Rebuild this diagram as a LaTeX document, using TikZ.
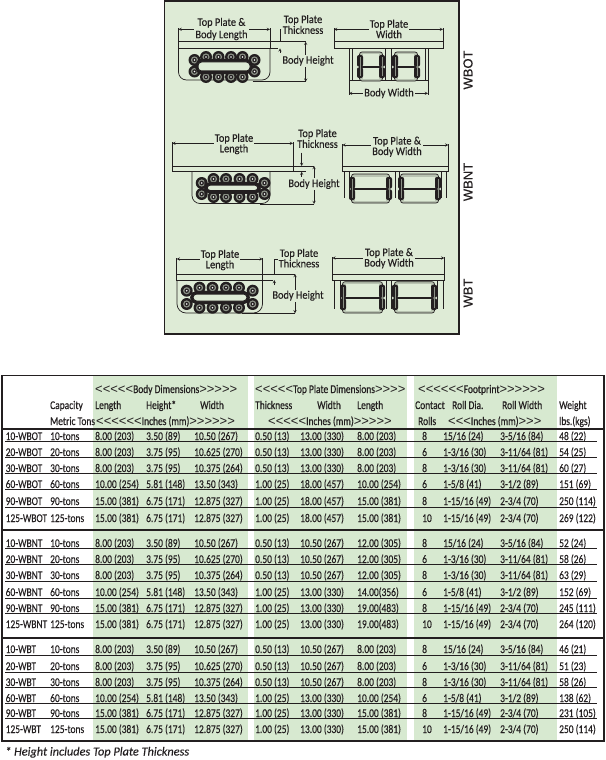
\documentclass[tikz,border=0pt]{standalone}
\usepackage{fontspec}
\usepackage{tikz}
\usetikzlibrary{arrows,positioning}
\newfontfamily\tabfont[FakeStretch=0.8,FakeBold=0.2]{Carlito}
\newfontfamily\headfont[FakeStretch=0.8,FakeBold=0.55]{Carlito}
\newfontfamily\diagfont[FakeStretch=0.9,FakeBold=0.3]{Carlito}
\newfontfamily\notefont[FakeBold=0.2]{Carlito}
\newfontfamily\typefont[FakeBold=0.4]{Liberation Sans}
\newfontfamily\chevfont{Liberation Sans}
\definecolor{panelgreen}{HTML}{DEEBD6}
\definecolor{bandgreen}{HTML}{D7E9D0}
\definecolor{inkdark}{HTML}{231F20}
\definecolor{rollgrey}{HTML}{8B9186}
\definecolor{drumgrey}{HTML}{B9C4B2}
\newcommand{\lchev}{{\fontsize{13}{12}\chevfont<}}
\newcommand{\rchev}{{\fontsize{13}{12}\chevfont>}}
\tikzset{
  tabcell/.style={anchor=base west,inner sep=0pt,font=\fontsize{11.8}{12}\tabfont,text=inkdark},
  headcell/.style={anchor=base west,inner sep=0pt,font=\fontsize{11.8}{12}\headfont,text=inkdark},
  dimlabel/.style={align=center,inner sep=1pt,fill=panelgreen,font=\fontsize{11.5}{10.5}\diagfont,text=inkdark},
  typelabel/.style={rotate=90,inner sep=0pt,font=\fontsize{13}{13}\typefont,text=inkdark},
  dimline/.style={draw=inkdark,line width=0.45pt},
  dimarrow/.style={dimline,<->,>=stealth},
  partline/.style={draw=inkdark,line width=0.7pt},
  rowrule/.style={draw=inkdark,line width=0.8pt},
  bigrule/.style={draw=inkdark,line width=1.8pt}
}
% one table row, first the model and the dimensions, then the footprint
\newcommand{\dimrow}[9]{%
  \node[tabcell] (m#1) at (5.5,#1) {#2};
  \node[tabcell] (k#1) at (50,#1) {#3};
  \node[tabcell] (l#1) at (95,#1) {#4};
  \node[tabcell] (h#1) at (146,#1) {#5};
  \node[tabcell] (w#1) at (194,#1) {#6};
  \node[tabcell] (t#1) at (255,#1) {#7};
  \node[tabcell] (p#1) at (300,#1) {#8};
  \node[tabcell] (q#1) at (357,#1) {#9};
}
\newcommand{\footrow}[5]{%
  \node[tabcell] (r#1) at (422,#1) {#2};
  \node[tabcell] (d#1) at (443,#1) {#3};
  \node[tabcell] (e#1) at (500,#1) {#4};
  \node[tabcell] (g#1) at (559,#1) {#5};
}
\newcommand{\rollat}[2]{%
  \fill[inkdark] (#1,#2) circle (6);
  \fill[rollgrey] (#1,#2) circle (3.6);
  \fill[inkdark] (#1,#2) circle (2.2);
  \fill[white] (#1,#2) circle (0.9);
}
% xs of top and bottom rows, their two ys, xs of the ends, their two ys
\newcommand{\chainside}[6]{%
  \foreach \rx in {#1} \foreach \ry in {#2,#3} {\rollat{\rx}{\ry}}
  \foreach \rx in {#4} \foreach \ry in {#5,#6} {\rollat{\rx}{\ry}}
}
\newcommand{\rollslot}[4]{%
  \draw[inkdark,line width=3.4pt,rounded corners=5pt] (#1-1,#3-1.5) rectangle (#2+1,#4+1.5);
  \draw[partline,line width=1pt,fill=panelgreen,rounded corners=3.5pt] (#1,#3) rectangle (#2,#4);
}
\newcommand{\drum}[5]{% x1 x2 ytop ybottom ymiddle
  \draw[partline,fill=drumgrey,rounded corners=2.5pt] (#1+2.5,#3) rectangle (#2-2.5,#4);
  \fill[panelgreen] (#1+6,#3+2.5) rectangle (#2-6,#4-2.5);
  \draw[inkdark,line width=1.1pt] (#1+4,#5) -- (#2-4,#5);
  \foreach \ex in {#1+3,#2-3} {
    \fill[inkdark,rounded corners=2pt] (\ex-3,#3+3) rectangle (\ex+3,#5-0.3);
    \fill[inkdark,rounded corners=2pt] (\ex-3,#5+0.3) rectangle (\ex+3,#4-3);
    \draw[rollgrey,line width=0.7pt] (\ex,#3+5) -- (\ex,#4-5);
  }
}
\newcommand{\hdim}[6]{% name x1 x2 ydim yend overshoot
  \coordinate (#1a) at (#2,#4);
  \coordinate (#1b) at (#3,#4);
  \draw[dimarrow] (#1a) -- (#1b);
  \draw[dimline] (#2,#5) -- (#2,#4+#6);
  \draw[dimline] (#3,#5) -- (#3,#4+#6);
}
\newcommand{\plate}[4]{%
  \draw[partline,fill=panelgreen] (#1,#3) rectangle (#2,#4);
}
\begin{document}
\begin{tikzpicture}[x=1pt,y=-1pt]
\useasboundingbox (0,0) rectangle (605,760);
%%the green panel
\draw[draw=inkdark,line width=1.6pt,fill=panelgreen] (164.5,1) rectangle (459,334);
%%WBOT side view
\draw[partline,rounded corners=8pt] (178.5,48) -- (178.5,80) -- (270,80) -- (270,48);
\plate{178.5}{270}{41.7}{48.3}
\rollslot{198}{250}{62}{71}
\chainside{206,218.5,231,242.5}{57}{77}{194.5,254.5}{60}{71.5}
\rollslot{198}{250}{62}{71}
%%WBOT front view
\draw[partline,fill=panelgreen] (349,48) rectangle (428,80);
\foreach \sx in {352.7,385,391.7,425} {\draw[partline] (\sx,48) -- (\sx,80);}
\plate{334}{443}{41.7}{48.3}
\drum{357}{385}{52}{81}{67}
\drum{392}{420}{52}{81}{67}
%%WBOT dimensions
\hdim{lenone}{178.5}{270}{29.3}{41.7}{-1.5}
\node[dimlabel,font=\fontsize{11.5}{12.3}\diagfont] (toplen1) at (221.5,29) {Top Plate \&\\Body Length};
\hdim{widone}{334}{443}{29.3}{41.7}{-1.5}
\node[dimlabel] (topwid1) at (389,29) {Top Plate\\Width};
\hdim{bodyone}{349}{428}{93.3}{80}{1.5}
\node[dimlabel] (bodywid1) at (389,93.3) {Body Width};
\node[dimlabel,fill=none,font=\fontsize{11.5}{9.5}\diagfont] (thick1) at (303,24.5) {Top Plate\\Thickness};
\coordinate (ta1) at (280,41.7);
\coordinate (tb1) at (280,48.3);
\draw[dimline] (thick1.west |- 0,29) -- (280,29) -- (ta1);
\draw[dimline] (270,41.7) -- (305.7,41.7);
\draw[dimline] (270,48.3) -- (278,48.3);
\draw[dimline,<-,>=stealth] (tb1) -- (280,53);
\coordinate (ha1) at (305.7,41.7);
\coordinate (hb1) at (305.7,81.7);
\draw[dimarrow] (ha1) -- (hb1);
\draw[dimline] (252.7,81.7) -- (hb1);
\node[dimlabel] (height1) at (308,60.7) {Body Height};
\node[typelabel] (type1) at (468,70) {WBOT};
%%WBNT side view
\draw[partline,rounded corners=8pt] (192,171) -- (192,203.5) -- (270,203.5) -- (270,171);
\plate{172.3}{293}{166}{171.7}
\rollslot{207}{258}{185}{190.7}
\chainside{213.5,226,239.5,252.5}{179}{197}{201.7,264.5}{183}{194}
\rollslot{207}{258}{185}{190.7}
%%WBNT front view
\foreach \sx in {344,349,395,399,441,446} {\draw[partline] (\sx,171.7) -- (\sx,198);}
\plate{342.3}{448.3}{166}{171.7}
\drum{349}{392}{174}{203}{189}
\drum{398}{441}{174}{203}{189}
%%WBNT dimensions
\hdim{lentwo}{172.3}{293}{143.3}{166}{-1.5}
\node[dimlabel] (toplen2) at (234,144) {Top Plate\\Length};
\hdim{widtwo}{342.3}{448.3}{145}{166}{-1.5}
\node[dimlabel] (topwid2) at (397,146.7) {Top Plate \&\\Body Width};
\node[dimlabel,fill=none,font=\fontsize{11.5}{9.5}\diagfont] (thick2) at (317.5,138.5) {Top Plate\\Thickness};
\coordinate (ta2) at (301.7,166);
\coordinate (tb2) at (301.7,171.7);
\draw[dimline,->,>=stealth] (301.7,152.7) -- (ta2);
\draw[dimline,->,>=stealth] (301.7,176.7) -- (tb2);
\draw[dimline] (293,166) -- (314,166);
\draw[dimline] (293,171.7) -- (306,171.7);
\coordinate (ha2) at (314,166);
\coordinate (hb2) at (314,204);
\draw[dimarrow] (ha2) -- (hb2);
\draw[dimline] (260,204) -- (hb2);
\node[dimlabel] (height2) at (314,184) {Body Height};
\node[typelabel] (type2) at (468,182) {WBNT};
%%WBT side view
\draw[partline,rounded corners=9pt] (177,280) -- (177,313) -- (262.5,313) -- (262.5,280);
\plate{176.7}{262.7}{274}{280}
\rollslot{193}{247}{294}{301}
\chainside{199.5,212.5,226,239}{287.7}{307.7}{186.7,252.7}{290.7}{304}
\rollslot{193}{247}{294}{301}
%%WBT front view
\foreach \sx in {334,340,386,391,437,443} {\draw[partline] (\sx,280) -- (\sx,309);}
\plate{332.3}{444.3}{274}{280}
\drum{340}{385}{281.7}{313}{298}
\drum{392}{437}{281.7}{313}{298}
%%WBT dimensions
\hdim{lenthree}{176.7}{262.7}{259}{274}{-1.5}
\node[dimlabel] (toplen3) at (220,260) {Top Plate\\Length};
\hdim{widthree}{332.3}{444.3}{258}{274}{-1.5}
\node[dimlabel] (topwid3) at (389,258.2) {Top Plate \&\\Body Width};
\node[dimlabel,fill=none] (thick3) at (299,258.2) {Top Plate\\Thickness};
\coordinate (ta3) at (274.3,274);
\coordinate (tb3) at (274.3,280);
\draw[dimline] (277.7,259) -- (274.3,259) -- (ta3);
\draw[dimline,->,>=stealth] (274.3,285) -- (tb3);
\draw[dimline] (262.7,274) -- (295,274);
\draw[dimline] (262.7,280) -- (273,280);
\coordinate (ha3) at (295,274);
\coordinate (hb3) at (295,313.3);
\draw[dimarrow] (ha3) -- (hb3);
\draw[dimline] (241.7,313.3) -- (hb3);
\node[dimlabel] (height3) at (298,295.7) {Body Height};
\node[typelabel] (type3) at (468,293) {WBT};
%%the table, bands first
\fill[bandgreen] (93,376) rectangle (248,741);
\fill[bandgreen] (254,376) rectangle (407,741);
\fill[bandgreen] (414,376) rectangle (557,741);
%%header
\node[headcell] (bodyhead) at (95,393) {\lchev\lchev\lchev\lchev\lchev Body Dimensions\rchev\rchev\rchev\rchev\rchev};
\node[headcell] (platehead) at (255,393) {\lchev\lchev\lchev\lchev\lchev Top Plate Dimensions\rchev\rchev\rchev\rchev};
\node[headcell] (foothead) at (418,393) {\lchev\lchev\lchev\lchev\lchev\lchev Footprint\rchev\rchev\rchev\rchev\rchev\rchev};
\node[headcell] (capahead) at (50,409) {Capacity};
\node[headcell] (lenhead) at (95,409) {Length};
\node[headcell] (heihead) at (146,409) {Height*};
\node[headcell] (widhead) at (200,409) {Width};
\node[headcell] (thihead) at (255,409) {Thickness};
\node[headcell] (pwhead) at (317,409) {Width};
\node[headcell] (plhead) at (357,409) {Length};
\node[headcell] (conhead) at (415,409) {Contact};
\node[headcell] (diahead) at (452,409) {Roll Dia.};
\node[headcell] (rwhead) at (502,409) {Roll Width};
\node[headcell] (weihead) at (559,409) {Weight};
\node[headcell] (metrhead) at (50,425) {Metric Tons};
\node[headcell] (inhead1) at (96,425) {\lchev\lchev\lchev\lchev\lchev\lchev Inches (mm)\rchev\rchev\rchev\rchev\rchev\rchev};
\node[headcell] (inhead2) at (268,425) {\lchev\lchev\lchev\lchev\lchev Inches (mm)\rchev\rchev\rchev\rchev\rchev};
\node[headcell] (rollhead) at (418,425) {Rolls};
\node[headcell] (inhead3) at (448,425) {\lchev\lchev\lchev Inches (mm)\rchev\rchev\rchev};
\node[headcell] (lbshead) at (559,425) {lbs.(kgs)};
%%WBOT rows
\dimrow{440}{10-WBOT}{10-tons}{8.00 (203)}{3.50 (89)}{10.50 (267)}{0.50 (13)}{13.00 (330)}{8.00 (203)}
\footrow{440}{8}{15/16 (24)}{3-5/16 (84)}{48 (22)}
\dimrow{456}{20-WBOT}{20-tons}{8.00 (203)}{3.75 (95)}{10.625 (270)}{0.50 (13)}{13.00 (330)}{8.00 (203)}
\footrow{456}{6}{1-3/16 (30)}{3-11/64 (81)}{54 (25)}
\dimrow{472}{30-WBOT}{30-tons}{8.00 (203)}{3.75 (95)}{10.375 (264)}{0.50 (13)}{13.00 (330)}{8.00 (203)}
\footrow{472}{8}{1-3/16 (30)}{3-11/64 (81)}{60 (27)}
\dimrow{488}{60-WBOT}{60-tons}{10.00 (254)}{5.81 (148)}{13.50 (343)}{1.00 (25)}{18.00 (457)}{10.00 (254)}
\footrow{488}{6}{1-5/8 (41)}{3-1/2 (89)}{151 (69)}
\dimrow{505}{90-WBOT}{90-tons}{15.00 (381)}{6.75 (171)}{12.875 (327)}{1.00 (25)}{18.00 (457)}{15.00 (381)}
\footrow{505}{8}{1-15/16 (49)}{2-3/4 (70)}{250 (114)}
\dimrow{522}{125-WBOT}{125-tons}{15.00 (381)}{6.75 (171)}{12.875 (327)}{1.00 (25)}{18.00 (457)}{15.00 (381)}
\footrow{522}{10}{1-15/16 (49)}{2-3/4 (70)}{269 (122)}
%%WBNT rows
\dimrow{547}{10-WBNT}{10-tons}{8.00 (203)}{3.50 (89)}{10.50 (267)}{0.50 (13)}{10.50 (267)}{12.00 (305)}
\footrow{547}{8}{15/16 (24)}{3-5/16 (84)}{52 (24)}
\dimrow{563}{20-WBNT}{20-tons}{8.00 (203)}{3.75 (95)}{10.625 (270)}{0.50 (13)}{10.50 (267)}{12.00 (305)}
\footrow{563}{6}{1-3/16 (30)}{3-11/64 (81)}{58 (26)}
\dimrow{579}{30-WBNT}{30-tons}{8.00 (203)}{3.75 (95)}{10.375 (264)}{0.50 (13)}{10.50 (267)}{12.00 (305)}
\footrow{579}{8}{1-3/16 (30)}{3-11/64 (81)}{63 (29)}
\dimrow{596}{60-WBNT}{60-tons}{10.00 (254)}{5.81 (148)}{13.50 (343)}{1.00 (25)}{13.00 (330)}{14.00(356)}
\footrow{596}{6}{1-5/8 (41)}{3-1/2 (89)}{152 (69)}
\dimrow{612}{90-WBNT}{90-tons}{15.00 (381)}{6.75 (171)}{12.875 (327)}{1.00 (25)}{13.00 (330)}{19.00(483)}
\footrow{612}{8}{1-15/16 (49)}{2-3/4 (70)}{245 (111)}
\dimrow{628}{125-WBNT}{125-tons}{15.00 (381)}{6.75 (171)}{12.875 (327)}{1.00 (25)}{13.00 (330)}{19.00(483)}
\footrow{628}{10}{1-15/16 (49)}{2-3/4 (70)}{264 (120)}
%%WBT rows
\dimrow{653}{10-WBT}{10-tons}{8.00 (203)}{3.50 (89)}{10.50 (267)}{0.50 (13)}{10.50 (267)}{8.00 (203)}
\footrow{653}{8}{15/16 (24)}{3-5/16 (84)}{46 (21)}
\dimrow{670}{20-WBT}{20-tons}{8.00 (203)}{3.75 (95)}{10.625 (270)}{0.50 (13)}{10.50 (267)}{8.00 (203)}
\footrow{670}{6}{1-3/16 (30)}{3-11/64 (81)}{51 (23)}
\dimrow{686}{30-WBT}{30-tons}{8.00 (203)}{3.75 (95)}{10.375 (264)}{0.50 (13)}{10.50 (267)}{8.00 (203)}
\footrow{686}{8}{1-3/16 (30)}{3-11/64 (81)}{58 (26)}
\dimrow{702}{60-WBT}{60-tons}{10.00 (254)}{5.81 (148)}{13.50 (343)}{1.00 (25)}{13.00 (330)}{10.00 (254)}
\footrow{702}{6}{1-5/8 (41)}{3-1/2 (89)}{138 (62)}
\dimrow{717}{90-WBT}{90-tons}{15.00 (381)}{6.75 (171)}{12.875 (327)}{1.00 (25)}{13.00 (330)}{15.00 (381)}
\footrow{717}{8}{1-15/16 (49)}{2-3/4 (70)}{231 (105)}
\dimrow{733}{125-WBT}{125-tons}{15.00 (381)}{6.75 (171)}{12.875 (327)}{1.00 (25)}{13.00 (330)}{15.00 (381)}
\footrow{733}{10}{1-15/16 (49)}{2-3/4 (70)}{250 (114)}
%%the rules
\foreach \ry in {441,457,473,489,507,548,564,581,598,613,655,672,687,703,718} {
  \draw[rowrule] (5,\ry) -- (597,\ry);
}
\draw[bigrule] (2,429) -- (604,429);
\draw[bigrule] (2,530) -- (604,530);
\draw[bigrule] (2,638) -- (604,638);
\draw[draw=inkdark,line width=1.8pt] (2,375.5) rectangle (604,741);
\node[anchor=base west,inner sep=0pt,font=\fontsize{12.3}{13}\notefont\itshape,text=inkdark] (footnote) at (5,755.5) {* Height includes Top Plate Thickness};
\end{tikzpicture}
\end{document}
